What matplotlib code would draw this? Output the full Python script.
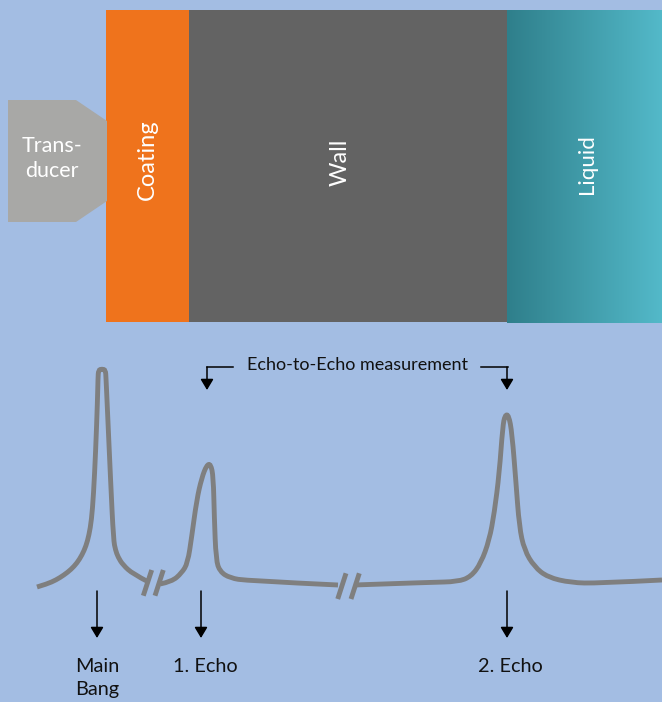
import numpy as np
import matplotlib
matplotlib.use("Agg")
import matplotlib.pyplot as plt
from matplotlib.path import Path
from matplotlib.patches import PathPatch, Polygon, Rectangle

W, H = 662, 702
BG = "#A3BDE3"
CURVE = "#7F7F7F"
plt.rcParams["font.family"] = ["Lato", "DejaVu Sans"]

# Traced pulse trace, reference pixel coordinates
main_x = [37, 47, 56, 64, 71, 77, 82, 86, 89, 91.5, 93.5, 95.7, 97.5, 98, 98.5, 102, 105.5, 106, 107, 110.7, 113.5, 115.5, 118, 123, 133, 148]
main_y = [587, 584, 580, 575, 569.5, 563, 555, 546, 535, 520, 495, 450, 400, 378, 370, 369, 370, 378, 400, 483, 540, 550, 557, 565, 574, 581.7]
echo1_x = [160, 171.7, 181.7, 187.7, 191.7, 196.7, 201.7, 206.7, 210.7, 213.3, 214.3, 216, 220, 230, 246.7, 338]
echo1_y = [584, 581.7, 573, 563, 536.7, 500, 478, 465, 464, 476.7, 516.7, 560, 571.7, 578, 580.7, 585]
echo2_x = [354, 431, 457.7, 471, 481, 489.3, 494.3, 499.3, 502.7, 505, 508.7, 512, 516, 519.3, 524.3, 534.3, 547.7, 571, 597.7, 662]
echo2_y = [585, 582.3, 581.7, 576.7, 563, 540, 513, 473, 426.7, 415, 415, 433, 483, 526.7, 550, 566.7, 577.3, 582.7, 583.3, 580]
breaks = [((151.7, 570), (143.3, 595.7)), ((163.3, 570), (155, 595.7)),
          ((346, 573.3), (337.7, 599)), ((359.3, 573.3), (351, 599))]
labels = ["Main\nBang", "1. Echo", "2. Echo"]
label_x = [97, 205.5, 510]
arrow_x = [97, 201, 507]

fig = plt.figure(figsize=(W / 100, H / 100), dpi=100, facecolor=BG)
ax = fig.add_axes([0, 0, 1, 1])
ax.set_xlim(0, W)
ax.set_ylim(H, 0)
ax.axis("off")

# Blocks
ax.add_patch(Rectangle((106, 10), 83, 312, fc="#EF731C", ec="none", zorder=1))
ax.add_patch(Rectangle((189, 10), 318, 312, fc="#636363", ec="none", zorder=1))
grad = np.linspace(0, 1, 256)[None, :, None]
c0, c1 = np.array([0x2F, 0x7F, 0x8B]) / 255, np.array([0x53, 0xB9, 0xC9]) / 255
ax.imshow(c0 + (c1 - c0) * grad, extent=(507, 662, 323, 10), aspect="auto", zorder=1)
ax.set_xlim(0, W)
ax.set_ylim(H, 0)
ax.add_patch(Polygon([(8, 100), (76, 100), (107, 121), (107, 201), (76, 222), (8, 222)],
                     fc="#A8A8A6", ec="none", zorder=2))

# White labels
white = dict(color="white", ha="center", va="center", zorder=3)
ax.text(52, 158.5, "Trans-\nducer", fontsize=15.5, linespacing=1.35, **white)
ax.text(147, 160, "Coating", rotation=90, fontsize=17, **white)
ax.text(340, 162, "Wall", rotation=90, fontsize=17, **white)
ax.text(587, 164, "Liquid", rotation=90, fontsize=16, **white)


def smooth(xs, ys):
    pts = np.column_stack([xs, ys])
    verts = [pts[0]]
    codes = [Path.MOVETO]
    for i in range(1, len(pts) - 1):
        end = (pts[i] + pts[i + 1]) / 2 if i < len(pts) - 2 else pts[i + 1]
        verts += [pts[i], end]
        codes += [Path.CURVE3, Path.CURVE3]
    return Path(verts, codes)


for xs, ys in [(main_x, main_y), (echo1_x, echo1_y), (echo2_x, echo2_y)]:
    ax.add_patch(PathPatch(smooth(xs, ys), fc="none", ec=CURVE, lw=3.5, capstyle="butt", zorder=4))
for (a, b) in breaks:
    ax.plot([a[0], b[0]], [a[1], b[1]], color=CURVE, lw=3.5, solid_capstyle="butt", zorder=4)


def arrow(x0, y0, x1, y1):
    ax.annotate("", xy=(x1, y1), xytext=(x0, y0), zorder=5,
                arrowprops=dict(arrowstyle="-|>,head_length=0.5,head_width=0.3", color="black",
                                lw=1.1, shrinkA=0, shrinkB=0, mutation_scale=13))


for x in arrow_x:
    arrow(x, 591, x, 638)
ax.plot([233, 206.5], [367, 367], color="black", lw=1.1, solid_capstyle="projecting")
arrow(207, 367, 207, 390)
ax.plot([481, 507.5], [367, 367], color="black", lw=1.1, solid_capstyle="projecting")
arrow(507, 367, 507, 390)

ax.text(357.5, 365, "Echo-to-Echo measurement", fontsize=13, color="#111111", ha="center", va="center")
ax.text(label_x[0], 678, labels[0], fontsize=14.3, color="#111111", ha="center", va="center", linespacing=1.45)
ax.text(label_x[1], 666, labels[1], fontsize=14.3, color="#111111", ha="center", va="center")
ax.text(label_x[2], 666, labels[2], fontsize=14.3, color="#111111", ha="center", va="center")

fig.savefig("out.png", dpi=100, facecolor=BG)
